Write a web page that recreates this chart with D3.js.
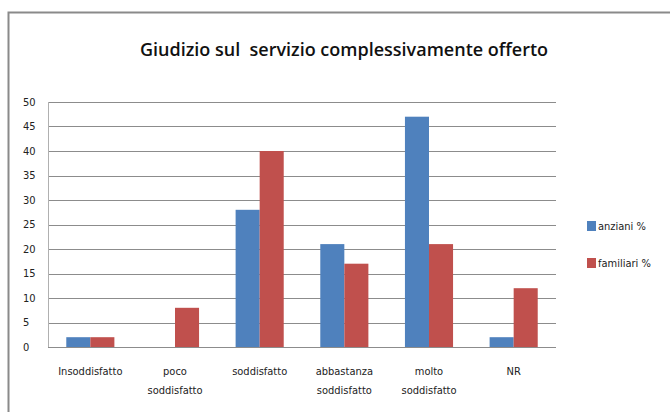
<!DOCTYPE html>
<html>
<head>
<meta charset="utf-8">
<script src="https://cdn.jsdelivr.net/npm/d3@7"></script>
<style>
  body { margin: 0; background: #fff; }
  svg { display: block; }
  .tick-lbl, .cat-lbl, .leg-lbl { font-family: "DejaVu Sans", sans-serif; font-stretch: condensed; font-size: 11px; fill: #222; }
  .title { font-family: "Open Sans", sans-serif; font-size: 18px; font-weight: 600; fill: #111; }
</style>
</head>
<body>
<div id="chart"></div>
<script>
const categories = [
  ['Insoddisfatto'],
  ['poco', 'soddisfatto'],
  ['soddisfatto'],
  ['abbastanza', 'soddisfatto'],
  ['molto', 'soddisfatto'],
  ['NR']
];
const seriesNames = ['anziani %', 'familiari %'];
const anziani = [2, 0, 28, 21, 47, 2];
const familiari = [2, 8, 40, 17, 21, 12];
const yTicks = [0, 5, 10, 15, 20, 25, 30, 35, 40, 45, 50];
const colors = ['#4f81bd', '#c0504d'];

const W = 670, H = 412;
const margin = {top: 102, left: 48, right: 114, bottom: 65};
const plotW = W - margin.left - margin.right;
const plotH = H - margin.top - margin.bottom;

const svg = d3.select('#chart').append('svg')
    .attr('width', W)
    .attr('height', H);

// outer frame (cut off at right and bottom like the source)
svg.append('path')
    .attr('d', `M8.5,${H} L8.5,12.5 L${W},12.5`)
    .attr('fill', 'none')
    .attr('stroke', '#8a8a8a')
    .attr('stroke-width', 2);

svg.append('text')
    .attr('class', 'title')
    .attr('x', 344)
    .attr('y', 56)
    .attr('text-anchor', 'middle')
    .style('white-space', 'pre')
    .text('Giudizio sul  servizio complessivamente offerto');

const keys = categories.map((c, i) => i);
const rows = keys.map(i => ({i, vals: [anziani[i], familiari[i]]}));

const x0 = d3.scaleBand().domain(keys).range([0, plotW]);
const x1 = d3.scaleBand().domain([0, 1]).range([0, x0.bandwidth()]).paddingOuter(0.76);
const y = d3.scaleLinear().domain([0, 50]).range([plotH, 0]);

const g = svg.append('g').attr('transform', `translate(${margin.left},${margin.top})`);

// gridlines
g.selectAll('.grid')
    .data(yTicks.filter(t => t > 0))
    .join('line')
    .attr('x1', 0).attr('x2', plotW)
    .attr('y1', d => Math.round(y(d)) + 0.5)
    .attr('y2', d => Math.round(y(d)) + 0.5)
    .attr('stroke', '#8c8c8c');

// y axis line
g.append('line')
    .attr('x1', 0.5).attr('x2', 0.5)
    .attr('y1', 0).attr('y2', plotH)
    .attr('stroke', '#b0b0b0');

g.selectAll('.tick-lbl')
    .data(yTicks)
    .join('text')
    .attr('class', 'tick-lbl')
    .attr('x', -25)
    .attr('y', d => y(d))
    .attr('dy', '0.35em')
    .text(d => d);

// bars
const grp = g.selectAll('.grp')
    .data(rows)
    .join('g')
    .attr('transform', d => `translate(${x0(d.i)},0)`);

grp.selectAll('rect')
    .data(d => d.vals.map((v, s) => ({s, v})))
    .join('rect')
    .attr('x', d => x1(d.s))
    .attr('width', x1.bandwidth())
    .attr('y', d => y(d.v))
    .attr('height', d => plotH - y(d.v))
    .attr('fill', d => colors[d.s]);

// x axis baseline
g.append('line')
    .attr('x1', 0).attr('x2', plotW)
    .attr('y1', plotH + 0.5).attr('y2', plotH + 0.5)
    .attr('stroke', '#8c8c8c');

// category labels
g.selectAll('.cat-lbl')
    .data(rows)
    .join('text')
    .attr('class', 'cat-lbl')
    .attr('text-anchor', 'middle')
    .attr('x', d => x0(d.i) + x0.bandwidth() / 2)
    .attr('y', plotH + 28)
    .selectAll('tspan')
    .data(d => categories[d.i])
    .join('tspan')
    .attr('x', function() { return d3.select(this.parentNode).attr('x'); })
    .attr('dy', (d, k) => k === 0 ? 0 : 19)
    .text(d => d);

// legend
const leg = svg.append('g').attr('transform', 'translate(587,0)');
seriesNames.forEach((name, s) => {
  const yy = 221 + s * 37;
  leg.append('rect')
      .attr('x', 0).attr('y', yy)
      .attr('width', 9).attr('height', 10)
      .attr('fill', colors[s]);
  leg.append('text')
      .attr('class', 'leg-lbl')
      .attr('x', 11).attr('y', yy + 5)
      .attr('dy', '0.35em')
      .text(name);
});
</script>
</body>
</html>
